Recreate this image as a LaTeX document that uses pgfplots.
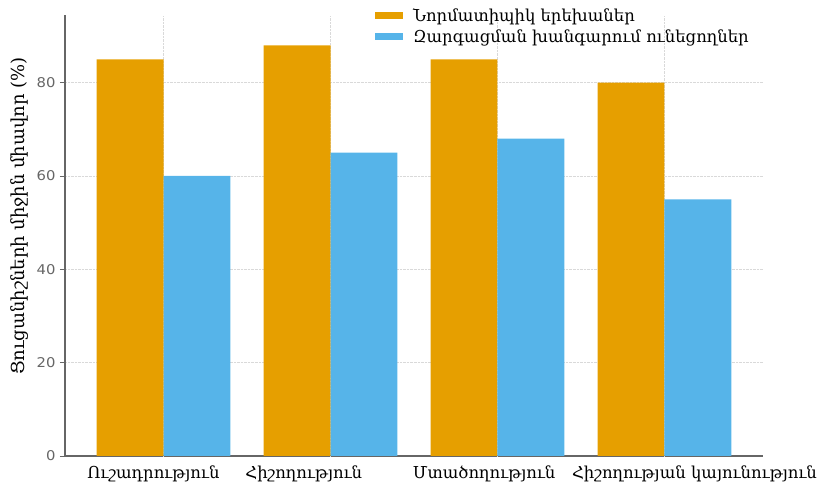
\documentclass[border=0pt]{standalone}
\usepackage{fontspec}
\usepackage{graphicx}
\usepackage{pgfplots}
\pgfplotsset{compat=1.18}
\setmainfont{DejaVu Serif}
\newfontfamily\tickfont{DejaVu Sans}
\definecolor{corange}{HTML}{E69F00}
\definecolor{cblue}{HTML}{56B4E9}
\definecolor{spine}{HTML}{666666}
\begin{document}
\begin{tikzpicture}
\useasboundingbox (-65bp,-35bp) rectangle (753bp,456bp);
\begin{axis}[
  at={(0,0)}, anchor=south west,
  scale only axis, width=698bp, height=440.6bp,
  xmin=-0.59, xmax=3.59, ymin=0, ymax=94.4,
  ybar, bar width=0.4,
  axis x line*=bottom, axis y line*=left,
  axis line style={spine, line width=1.5pt},
  x axis line style={-}, y axis line style={-},
  ytick={0,20,40,60,80},
  yticklabel={\scalebox{1.1}[1]{\pgfmathprintnumber{\tick}}},
  yticklabel style={font=\tickfont\fontsize{13.5}{15}\selectfont, text=spine, xshift=-1bp},
  /pgf/number format/assume math mode=true,
  ytick style={spine, line width=0.8pt},
  tick align=outside, major tick length=5bp,
  ymajorgrids, grid style={densely dotted, gray!30, line width=0.6pt},
  xtick={-0.06,0.84,1.92,3.18},
  xticklabels={Ուշադրություն,Հիշողություն,Մտածողություն,Հիշողության կայունություն},
  xtick style={draw=none},
  xticklabel style={font=\fontsize{16.5}{18}\selectfont, text=black, yshift=-1bp},
  extra x ticks={0,1,2,3}, extra x tick labels={},
  extra x tick style={grid=major, xtick style={draw=none}},
  ylabel={Ցուցանիշների միջին միավոր (\%)},
  ylabel style={at={(axis description cs:-0.0645,0.544)}, anchor=center, font=\fontsize{18}{20}\selectfont},
  legend style={at={(axis description cs:0.441,1.025)}, anchor=north west, draw=none, fill=none,
    font=\fontsize{16.5}{17}\selectfont, row sep=3bp, column sep=8bp, inner sep=2bp},
  legend cell align=left,
  legend image code/.code={\fill[#1] (0bp,-3.5bp) rectangle (28bp,3.5bp);},
]
\addplot[fill=corange, draw=none, bar shift=-0.2] coordinates {(0,85) (1,88) (2,85) (3,80)};
\addplot[fill=cblue, draw=none, bar shift=0.2] coordinates {(0,60) (1,65) (2,68) (3,55)};
\legend{Նորմատիպիկ երեխաներ, Զարգացման խանգարում ունեցողներ}
\end{axis}
\end{tikzpicture}
\end{document}
